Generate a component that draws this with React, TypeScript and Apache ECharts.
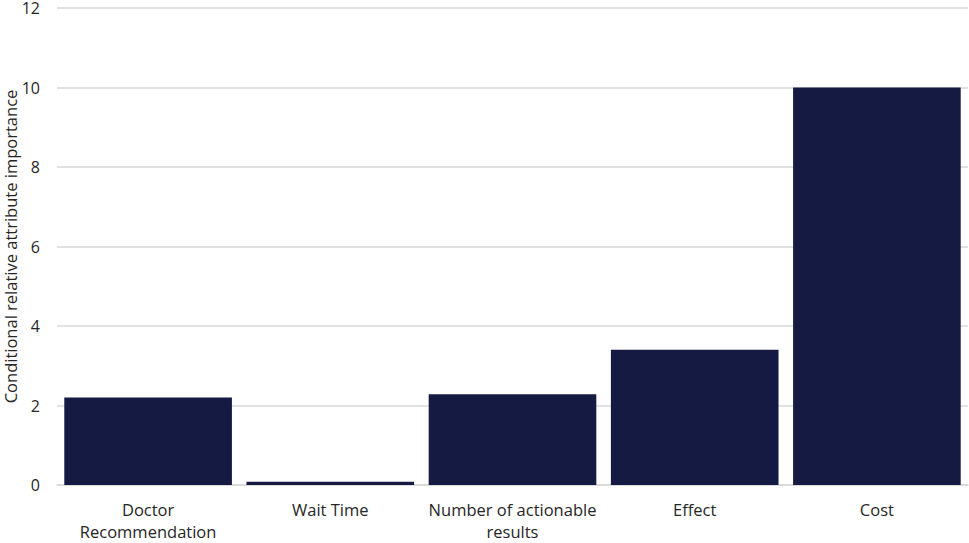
import React, { useEffect, useRef } from "react";
import * as echarts from "echarts";

const categories = [
  "Doctor\nRecommendation",
  "Wait Time",
  "Number of actionable\nresults",
  "Effect",
  "Cost",
];
const values = [2.2, 0.08, 2.28, 3.4, 10];
const yTicks = { min: 0, max: 12, interval: 2 };
const yName = "Conditional relative attribute importance";

export default function App() {
  const ref = useRef<HTMLDivElement>(null);
  useEffect(() => {
    if (!ref.current) return;
    const chart = echarts.init(ref.current, null, { renderer: "svg" });
    const font = "'Open Sans', 'Noto Sans', sans-serif";
    chart.setOption({
      animation: false,
      grid: {
        left: 57,
        right: 1,
        top: 8,
        bottom: 58,
        containLabel: false,
        outerBoundsMode: "none",
      },
      xAxis: {
        type: "category",
        data: categories,
        axisTick: { show: false },
        axisLine: { show: true, lineStyle: { color: "#d9d9d9", width: 1.5 } },
        axisLabel: {
          color: "#262626",
          fontSize: 16.5,
          fontFamily: font,
          lineHeight: 22,
          margin: 13,
          interval: 0,
        },
      },
      yAxis: {
        type: "value",
        min: yTicks.min,
        max: yTicks.max,
        interval: yTicks.interval,
        name: yName,
        nameLocation: "middle",
        nameGap: 38,
        nameMoveOverlap: false,
        nameTextStyle: { color: "#262626", fontSize: 16.5, fontFamily: font },
        axisLine: { show: false },
        axisTick: { show: false },
        axisLabel: {
          color: "#262626",
          fontSize: 16,
          fontFamily: font,
          margin: 17,
          verticalAlign: "middle",
        },
        splitLine: { lineStyle: { color: "#d9d9d9", width: 1.5 } },
      },
      series: [
        {
          type: "bar",
          data: values,
          barCategoryGap: "8%",
          itemStyle: { color: "#141a42" },
        },
      ],
    });
    return () => chart.dispose();
  }, []);
  return (
    <div
      ref={ref}
      style={{ position: "fixed", left: 0, top: 0, width: 969, height: 543, background: "#fff" }}
    />
  );
}
